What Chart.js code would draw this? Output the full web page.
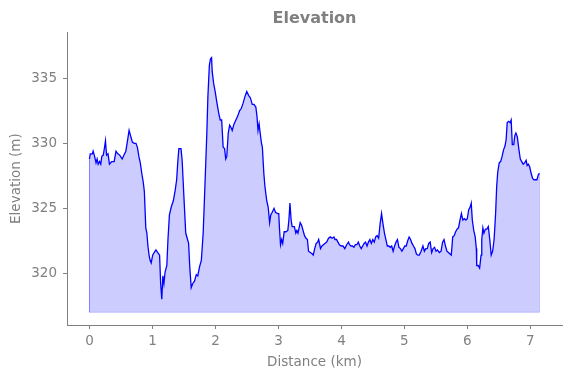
<!DOCTYPE html>
<html>
<head>
<meta charset="utf-8">
<script src="https://cdn.jsdelivr.net/npm/chart.js@4"></script>
<style>
  html, body { margin: 0; padding: 0; background: #ffffff; }
  #wrap { width: 571px; height: 378px; }
</style>
</head>
<body>
<div id="wrap"><canvas id="c" width="571" height="378"></canvas></div>
<script>
// ---- data ----
const distances = [
  0.000,0.012,0.046,0.058,0.081,0.104,0.121,0.138,0.161,0.179,
  0.196,0.219,0.236,0.254,0.271,0.294,0.317,0.352,0.392,0.421,
  0.450,0.479,0.519,0.548,0.577,0.600,0.629,0.652,0.681,0.709,
  0.738,0.761,0.784,0.807,0.830,0.854,0.871,0.894,0.911,0.928,
  0.946,0.963,0.980,1.003,1.027,1.055,1.084,1.113,1.130,1.148,
  1.165,1.182,1.200,1.228,1.246,1.269,1.298,1.332,1.361,1.384,
  1.401,1.419,1.453,1.471,1.499,1.528,1.557,1.574,1.592,1.615,
  1.638,1.667,1.696,1.719,1.747,1.776,1.805,1.834,1.863,1.880,
  1.903,1.920,1.938,1.949,1.972,1.995,2.024,2.053,2.076,2.099,
  2.122,2.145,2.163,2.180,2.203,2.226,2.249,2.266,2.295,2.324,
  2.353,2.382,2.411,2.439,2.468,2.497,2.526,2.555,2.584,2.612,
  2.641,2.659,2.676,2.693,2.710,2.728,2.745,2.768,2.785,2.814,
  2.837,2.860,2.878,2.901,2.930,2.953,2.987,3.005,3.016,3.033,
  3.051,3.068,3.091,3.120,3.149,3.166,3.183,3.201,3.218,3.235,
  3.253,3.276,3.293,3.310,3.328,3.345,3.368,3.391,3.414,3.437,
  3.460,3.478,3.506,3.535,3.552,3.576,3.599,3.622,3.639,3.668,
  3.691,3.714,3.737,3.766,3.795,3.824,3.852,3.881,3.898,3.922,
  3.945,3.968,3.997,4.025,4.054,4.083,4.112,4.129,4.152,4.175,
  4.198,4.221,4.245,4.268,4.291,4.314,4.337,4.360,4.383,4.406,
  4.429,4.452,4.475,4.498,4.521,4.544,4.567,4.591,4.614,4.637,
  4.660,4.683,4.706,4.729,4.752,4.775,4.798,4.821,4.844,4.867,
  4.890,4.913,4.937,4.960,4.983,5.006,5.029,5.052,5.075,5.098,
  5.121,5.144,5.167,5.190,5.213,5.236,5.265,5.294,5.317,5.340,
  5.363,5.386,5.409,5.433,5.456,5.479,5.502,5.525,5.554,5.582,
  5.606,5.629,5.652,5.675,5.698,5.721,5.744,5.767,5.790,5.813,
  5.836,5.859,5.882,5.905,5.928,5.952,5.975,5.998,6.021,6.044,
  6.061,6.078,6.101,6.124,6.142,6.148,6.171,6.194,6.217,6.228,
  6.246,6.263,6.286,6.309,6.332,6.355,6.378,6.401,6.424,6.448,
  6.465,6.482,6.505,6.528,6.551,6.574,6.597,6.615,6.632,6.655,
  6.678,6.695,6.713,6.736,6.753,6.770,6.793,6.816,6.840,6.863,
  6.886,6.909,6.932,6.949,6.966,6.989,7.012,7.035,7.058,7.081,
  7.104,7.127,7.145
];
const elevations = [
  328.8,329.2,329.2,329.4,329.0,328.5,328.8,328.4,328.6,328.4,
  329.0,329.1,329.6,330.2,329.1,329.2,328.4,328.6,328.6,329.4,
  329.2,329.1,328.8,329.1,329.4,330.1,331.0,330.6,330.1,330.0,
  330.0,329.7,329.0,328.5,327.7,327.0,326.3,323.5,323.1,322.1,
  321.4,321.0,320.8,321.4,321.6,321.8,321.6,321.4,319.2,318.0,
  319.8,319.2,320.1,320.6,322.6,324.5,325.1,325.6,326.4,327.2,
  328.5,329.6,329.6,328.7,325.9,323.1,322.6,322.3,320.5,318.9,
  319.2,319.4,319.9,319.8,320.5,321.0,323.1,326.9,330.8,333.6,
  336.0,336.5,336.6,335.5,334.6,334.0,333.1,332.3,331.8,331.8,
  329.7,329.6,328.8,329.0,330.8,331.4,331.2,331.0,331.5,331.8,
  332.1,332.5,332.7,333.1,333.6,334.0,333.7,333.5,333.0,333.0,
  332.8,332.1,331.0,331.5,330.8,330.1,329.7,327.7,326.7,325.6,
  325.1,323.9,324.5,324.7,325.0,324.7,324.6,324.6,323.5,322.2,
  322.6,322.3,323.2,323.2,323.3,324.1,325.4,324.1,323.6,323.6,
  323.6,323.1,323.3,323.1,323.5,323.9,323.7,323.3,322.9,322.7,
  322.6,321.7,321.6,321.5,321.4,321.9,322.3,322.4,322.6,321.9,
  322.1,322.2,322.3,322.4,322.7,322.8,322.7,322.8,322.6,322.6,
  322.4,322.2,322.1,322.1,321.9,322.2,322.4,322.2,322.1,322.1,
  322.0,322.2,322.2,322.4,322.1,321.9,322.1,322.3,322.4,322.1,
  322.4,322.6,322.3,322.6,322.4,322.8,322.9,322.7,323.8,324.6,
  323.8,323.1,322.6,322.1,322.1,322.0,322.1,321.7,322.1,322.4,
  322.6,322.0,321.9,321.7,321.9,322.1,322.1,322.5,322.8,322.6,
  322.3,322.1,321.9,321.5,321.4,321.4,321.7,322.1,321.7,321.9,
  321.9,322.3,322.4,321.6,321.9,322.0,321.7,321.8,321.6,321.7,
  322.4,322.6,322.1,321.7,321.6,321.5,321.4,322.8,322.9,323.2,
  323.4,323.5,324.1,324.6,324.1,324.2,324.1,324.2,324.9,325.1,
  325.4,324.1,323.3,322.8,321.9,320.6,320.6,320.4,321.4,322.6,
  323.5,323.1,323.4,323.4,323.6,322.6,321.4,321.7,322.6,324.6,
  326.7,327.8,328.5,328.6,329.0,329.5,329.8,330.3,331.6,331.7,
  331.6,331.8,329.9,329.9,330.6,330.8,330.5,329.6,328.8,328.6,
  328.4,328.5,328.7,328.3,328.4,328.2,327.7,327.3,327.2,327.2,
  327.2,327.6,327.7
];
const fillBase = 317.0;
const xTicks = [0, 1, 2, 3, 4, 5, 6, 7];
const yTicks = [320, 325, 330, 335];
const xRange = [-0.357, 7.502];
const yRange = [316.02, 338.56];

// ---- chart ----
const GRAY = '#808080';
const FONT = 'DejaVu Sans';
const n = Math.min(distances.length, elevations.length);
const pts = [];
for (let i = 0; i < n; i++) pts.push({ x: distances[i], y: elevations[i] });
const xEnd = distances[n - 1];
const edgePts = [
  { x: distances[0], y: elevations[0] },
  { x: distances[0], y: fillBase },
  { x: xEnd, y: fillBase },
  { x: xEnd, y: elevations[n - 1] }
];

new Chart(document.getElementById('c'), {
  type: 'line',
  data: {
    datasets: [
      {
        data: edgePts,
        borderColor: 'rgba(0,0,255,0.2)',
        borderWidth: 1,
        pointRadius: 0,
        fill: false,
        tension: 0,
        order: 2
      },
      {
        data: pts,
        borderColor: '#0000ff',
        borderWidth: 1.3,
        backgroundColor: 'rgba(0,0,255,0.2)',
        pointRadius: 0,
        fill: { value: fillBase },
        tension: 0,
        order: 1
      }
    ]
  },
  options: {
    responsive: false,
    devicePixelRatio: 1,
    animation: false,
    layout: { padding: { left: 0, right: 9, top: 0, bottom: 0 } },
    plugins: {
      legend: { display: false },
      tooltip: { enabled: false },
      title: {
        display: true,
        fullSize: false,
        text: 'Elevation',
        color: GRAY,
        font: { family: FONT, size: 16, weight: 'bold', lineHeight: 1.2 },
        padding: { top: 9, bottom: 4 }
      }
    },
    scales: {
      x: {
        type: 'linear',
        min: xRange[0],
        max: xRange[1],
        afterBuildTicks: (s) => { s.ticks = xTicks.map(v => ({ value: v })); },
        afterFit: (s) => { s.height = 53; },
        grid: { display: true, drawOnChartArea: false, drawTicks: true, tickLength: 4, color: GRAY },
        border: { display: true, color: GRAY, width: 1 },
        ticks: { color: GRAY, font: { family: FONT, size: 13.5 }, padding: 4, maxRotation: 0,
                  callback: (v) => String(v) },
        title: { display: true, text: 'Distance (km)', color: GRAY,
                 font: { family: FONT, size: 13.5, lineHeight: 1.2 }, padding: { top: 0, bottom: 7 } }
      },
      y: {
        type: 'linear',
        min: yRange[0],
        max: yRange[1],
        afterBuildTicks: (s) => { s.ticks = yTicks.map(v => ({ value: v })); },
        afterFit: (s) => { s.width = 67; },
        grid: { display: true, drawOnChartArea: false, drawTicks: true, tickLength: 4, color: GRAY },
        border: { display: true, color: GRAY, width: 1 },
        ticks: { color: GRAY, font: { family: FONT, size: 13.5 }, padding: 6,
                 callback: (v) => String(v) },
        title: { display: true, text: 'Elevation (m)', color: GRAY,
                 font: { family: FONT, size: 13.5, lineHeight: 1.2 }, padding: { top: 8, bottom: 0 } }
      }
    }
  }
});
</script>
</body>
</html>
